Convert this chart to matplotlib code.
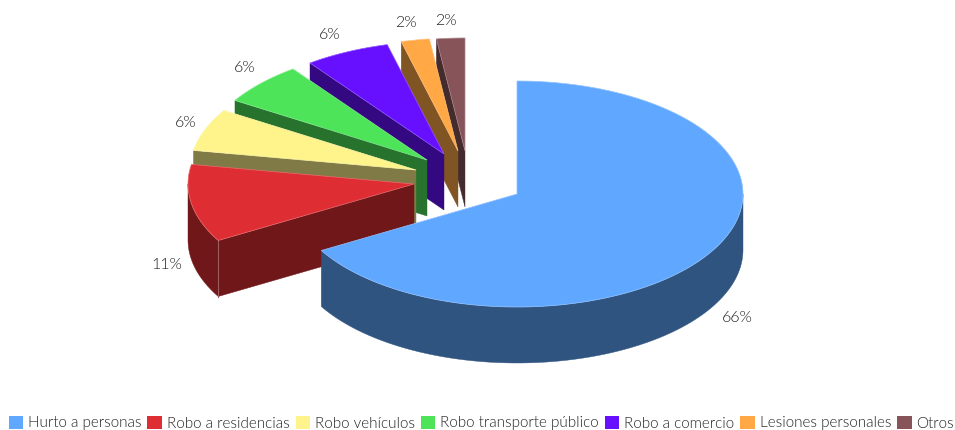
import numpy as np
import matplotlib
matplotlib.use("Agg")
import matplotlib.pyplot as plt
from matplotlib.patches import Patch

# datos
categorias = ["Hurto a personas", "Robo a residencias", "Robo vehículos",
              "Robo transporte público", "Robo a comercio", "Lesiones personales", "Otros"]
valores = [66, 11, 6, 6, 6, 2, 2]
colores = ["#60a8ff", "#df2e33", "#fff38b", "#4ee45a", "#6610ff", "#ffa845", "#875559"]

# geometria del pastel (pixeles)
cx, cy = 517, 194
rx, ry = 226, 113
prof = 56

# desplazamiento de cada porcion
expl_x = [0, -103, -101, -90, -73, -59, -52]
expl_y = [0, -10, -24, -34, -40, -43, -43]
# etiqueta respecto al vertice de cada porcion
etq_x = [220, -247, -230, -182, -114, -52, -19]
etq_y = [124, 81, -47, -92, -119, -128, -130]

plt.rcParams["font.family"] = ["Lato", "DejaVu Sans"]

fig = plt.figure(figsize=(9.55, 4.3), dpi=100)
ax = fig.add_axes([0, 0, 1, 1])
ax.set_xlim(0, 955)
ax.set_ylim(430, 0)
ax.axis("off")


def borde(ax0, ay0, a, b):
    t = np.radians(np.linspace(a, b, 120))
    return ax0 + rx*np.sin(t), ay0 - ry*np.cos(t)


fracs = np.array(valores)/sum(valores)*360
fin = np.cumsum(fracs)
ini = fin - fracs


def oscuro(c):
    return tuple(v*0.5 for v in matplotlib.colors.to_rgb(c))


def claro(c):
    return tuple(v + (1-v)*0.3 for v in matplotlib.colors.to_rgb(c))


# de atras hacia adelante
for i in range(len(valores)-1, -1, -1):
    x0 = cx + expl_x[i]
    y0 = cy + expl_y[i]
    lado = oscuro(colores[i])

    # pared del radio inicial
    if ini[i] >= 180:
        xe, ye = borde(x0, y0, ini[i], ini[i])
        ax.fill([x0, xe[0], xe[0], x0], [y0, ye[0], ye[0]+prof, y0+prof],
                color=lado, lw=0.3)

    # pared exterior
    a = max(ini[i], 90)
    b = min(fin[i], 270)
    if b > a:
        xa, ya = borde(x0, y0, a, b)
        ax.fill(np.r_[xa, xa[::-1]], np.r_[ya, ya[::-1]+prof], color=lado, lw=0.3)
        if ini[i] >= 180:
            ax.plot([xa[0], xa[0]], [ya[0], ya[0]+prof], color=claro(lado), lw=0.8)

    # cara superior
    xa, ya = borde(x0, y0, ini[i], fin[i])
    ax.fill(np.r_[x0, xa], np.r_[y0, ya], facecolor=colores[i],
            edgecolor=claro(colores[i]), lw=0.5)

for i in range(len(valores)):
    ax.text(cx + expl_x[i] + etq_x[i], cy + expl_y[i] + etq_y[i], f"{valores[i]}%",
            ha="center", va="center", fontsize=11.5, color="#222222", fontweight=300)

handles = [Patch(facecolor=c, edgecolor="none") for c in colores]
fig.legend(handles, categorias, ncol=7, loc="lower right", bbox_to_anchor=(954/955, -0.5/430),
           frameon=False, handlelength=0.95, handleheight=0.95,
           handletextpad=0.3, columnspacing=0.41, borderaxespad=0, borderpad=0,
           labelcolor="#222222", prop={"size": 11, "weight": 300})

fig.savefig("out.png", dpi=100)
